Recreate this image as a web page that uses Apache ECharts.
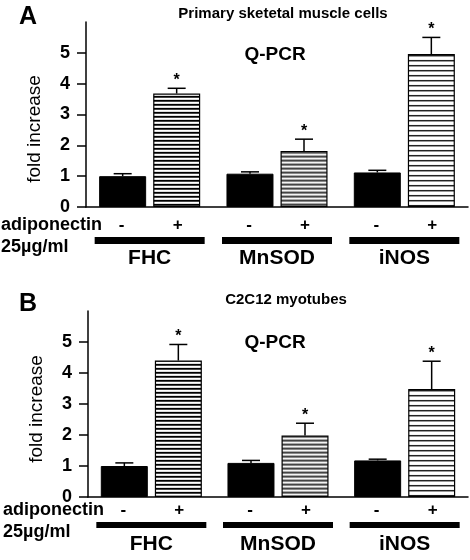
<!DOCTYPE html>
<html><head><meta charset="utf-8">
<script src="https://cdn.jsdelivr.net/npm/echarts@6/dist/echarts.min.js"></script>
<style>html,body{margin:0;padding:0;background:#fff}#c{width:470px;height:560px}</style>
</head><body><div id="c"></div>
<script>
// ---- data ----
const groups = ['FHC', 'MnSOD', 'iNOS'];
const yTicks = [0, 1, 2, 3, 4, 5];
const meanA_minus = [1.0, 1.08, 1.12];
const errA_minus  = [1.08, 1.14, 1.19];
const meanA_plus  = [3.68, 1.82, 4.96];
const errA_plus   = [3.85, 2.2, 5.5];
const meanB_minus = [1.0, 1.1, 1.18];
const errB_minus  = [1.1, 1.18, 1.22];
const meanB_plus  = [4.4, 1.98, 3.48];
const errB_plus   = [4.92, 2.38, 4.38];
const sigPlus = [true, true, true];

const FONT = '"Liberation Sans", Arial, sans-serif';

function stripes(rows) {
  const c = document.createElement('canvas');
  c.width = 4; c.height = rows.length;
  const ctx = c.getContext('2d');
  rows.forEach((col, i) => { ctx.fillStyle = col; ctx.fillRect(0, i, 4, 1); });
  return { image: c, repeat: 'repeat' };
}
const patterns = [
  stripes(['#000', '#444', '#fff', '#ddd']),
  stripes(['#444', '#888', '#f4f4f4', '#aaa']),
  stripes(['#222', '#999', '#fff', '#fff', '#f4f4f4'])
];

const BAR_W = 47, BAR_GAP = '15%', OFFSET = 27;

function errData(means, errs, side) {
  return means.map((m, i) => [i, m, errs[i], side, side > 0 && sigPlus[i] ? 1 : 0]);
}
function renderErr(params, api) {
  const ci = api.value(0), m = api.value(1), e = api.value(2), side = api.value(3), sig = api.value(4);
  const b = api.coord([ci, m]);
  const t = api.coord([ci, e]);
  const x = b[0] + side * OFFSET;
  const children = [
    { type: 'line', shape: { x1: x, y1: b[1], x2: x, y2: t[1] }, style: { stroke: '#000', lineWidth: 1.5 } },
    { type: 'line', shape: { x1: x - 9, y1: t[1], x2: x + 9, y2: t[1] }, style: { stroke: '#000', lineWidth: 1.5 } }
  ];
  if (sig) children.push({ type: 'text', x: x, y: t[1] - 8,
    style: { text: '*', font: 'bold 16px ' + FONT, fill: '#000', align: 'center', verticalAlign: 'middle' } });
  return { type: 'group', children };
}

function xAxisFor(gi, line1Top, barH, nameLH) {
  return {
    type: 'category', gridIndex: gi, data: groups,
    axisLine: { lineStyle: { color: '#000', width: 1.5 } },
    axisTick: { show: false },
    axisLabel: {
      interval: 0, margin: line1Top, color: '#000', fontFamily: FONT,
      formatter: v => '{pm|-}{pp|+}\n{bar| }\n{nm|' + v + '}',
      rich: {
        pm: { width: 56, align: 'center', fontSize: 17, fontWeight: 'bold', lineHeight: 24, fontFamily: FONT },
        pp: { width: 56, align: 'center', fontSize: 17, fontWeight: 'bold', lineHeight: 24, fontFamily: FONT },
        bar: { width: 110, height: barH, lineHeight: barH, backgroundColor: '#000', fontSize: 1 },
        nm: { fontSize: 21, fontWeight: 'bold', lineHeight: nameLH, fontFamily: FONT }
      }
    }
  };
}
function yAxisFor(gi) {
  return {
    type: 'value', gridIndex: gi, min: 0, max: 6, interval: 1,
    axisLine: { show: true, lineStyle: { color: '#000', width: 1.5 } },
    axisTick: { show: true, length: 9, customValues: yTicks, lineStyle: { color: '#000', width: 1.5 } },
    axisLabel: { customValues: yTicks, margin: 16, color: '#000', fontSize: 18, fontWeight: 'bold', fontFamily: FONT },
    splitLine: { show: false }
  };
}
function barSeries(axisIdx, means, plus) {
  return {
    type: 'bar', xAxisIndex: axisIdx, yAxisIndex: axisIdx,
    barWidth: BAR_W, barGap: BAR_GAP,
    data: means.map((v, i) => ({
      value: v,
      itemStyle: plus ? { color: patterns[i], borderColor: '#000', borderWidth: 1.2 }
                      : { color: '#000', borderColor: '#000', borderWidth: 1 }
    })),
    silent: true
  };
}
function errSeries(axisIdx, means, errs, side) {
  return { type: 'custom', xAxisIndex: axisIdx, yAxisIndex: axisIdx, z: 5, silent: true,
    renderItem: renderErr, data: errData(means, errs, side) };
}

function txt(x, y, text, font, align, rot) {
  return { type: 'text', x, y, rotation: rot || 0,
    style: { text, font, fill: '#000', align: align || 'left', verticalAlign: 'middle' } };
}

const chart = echarts.init(document.getElementById('c'), null, { renderer: 'canvas' });
chart.setOption({
  backgroundColor: '#fff',
  animation: false,
  grid: [
    { left: 86, right: 2, top: 22, bottom: 353 },
    { left: 88, right: 2, top: 311, bottom: 63 }
  ],
  xAxis: [xAxisFor(0, 6, 7, 28), xAxisFor(1, 1, 6, 32)],
  yAxis: [yAxisFor(0), yAxisFor(1)],
  series: [
    barSeries(0, meanA_minus, false), barSeries(0, meanA_plus, true),
    errSeries(0, meanA_minus, errA_minus, -1), errSeries(0, meanA_plus, errA_plus, 1),
    barSeries(1, meanB_minus, false), barSeries(1, meanB_plus, true),
    errSeries(1, meanB_minus, errB_minus, -1), errSeries(1, meanB_plus, errB_plus, 1)
  ],
  graphic: [
    txt(19, 17, 'A', 'bold 25px ' + FONT),
    txt(283, 14, 'Primary sketetal muscle cells', 'bold 15px ' + FONT, 'center'),
    txt(275, 55, 'Q-PCR', 'bold 19px ' + FONT, 'center'),
    txt(35, 129, 'fold increase', '19px ' + FONT, 'center', Math.PI / 2),
    txt(1, 225, 'adiponectin', 'bold 18px ' + FONT),
    txt(1, 247, '25\u00b5g/ml', 'bold 18px ' + FONT),
    txt(19, 304, 'B', 'bold 25px ' + FONT),
    txt(286, 300, 'C2C12 myotubes', 'bold 15px ' + FONT, 'center'),
    txt(275, 343, 'Q-PCR', 'bold 19px ' + FONT, 'center'),
    txt(37, 409, 'fold increase', '19px ' + FONT, 'center', Math.PI / 2),
    txt(3, 510, 'adiponectin', 'bold 18px ' + FONT),
    txt(3, 532, '25\u00b5g/ml', 'bold 18px ' + FONT)
  ]
});
</script></body></html>
